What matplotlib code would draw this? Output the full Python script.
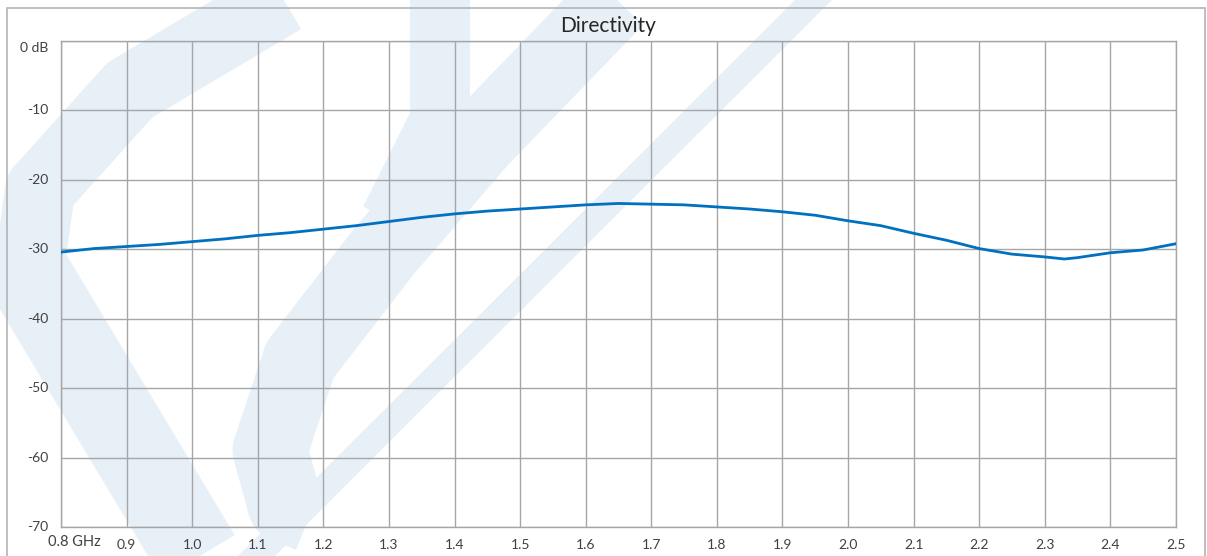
import matplotlib.pyplot as plt
from matplotlib.patches import Polygon, Rectangle
from matplotlib.lines import Line2D

W, H = 1207, 556

freq_ghz = [0.80, 0.85, 0.90, 0.95, 1.00, 1.05, 1.10, 1.15, 1.20, 1.25, 1.30,
            1.35, 1.40, 1.45, 1.50, 1.55, 1.60, 1.65, 1.70, 1.75, 1.80, 1.85,
            1.90, 1.95, 2.00, 2.05, 2.10, 2.15, 2.20, 2.25, 2.30, 2.33, 2.35,
            2.40, 2.45, 2.50]
directivity_db = [-30.4, -29.9, -29.6, -29.3, -28.9, -28.5, -28.0, -27.6, -27.1,
                  -26.6, -26.0, -25.4, -24.9, -24.5, -24.2, -23.9, -23.6, -23.4,
                  -23.5, -23.6, -23.9, -24.2, -24.6, -25.1, -25.9, -26.6, -27.7,
                  -28.7, -29.9, -30.7, -31.1, -31.4, -31.2, -30.5, -30.1, -29.2]

x_ticks = [0.8, 0.9, 1.0, 1.1, 1.2, 1.3, 1.4, 1.5, 1.6, 1.7, 1.8, 1.9,
           2.0, 2.1, 2.2, 2.3, 2.4, 2.5]
x_labels = ["0.8 GHz", "0.9", "1.0", "1.1", "1.2", "1.3", "1.4", "1.5", "1.6",
            "1.7", "1.8", "1.9", "2.0", "2.1", "2.2", "2.3", "2.4", "2.5"]
y_ticks = [0, -10, -20, -30, -40, -50, -60, -70]
y_labels = ["0 dB", "-10", "-20", "-30", "-40", "-50", "-60", "-70"]

grid_col = "#a6a6a6"
text_col = "#404040"
mark_col = "#e7eff7"

plt.rcParams['font.family'] = ['Lato', 'DejaVu Sans']

fig = plt.figure(figsize=(W / 100, H / 100), dpi=100)


def px(points):
    # pixel coords (origin top-left) -> figure fraction
    return [(x / W, 1 - y / H) for x, y in points]


def stroke(points, width_px):
    xy = px(points)
    fig.add_artist(Line2D([p[0] for p in xy], [p[1] for p in xy],
                          transform=fig.transFigure, color=mark_col,
                          linewidth=width_px * 0.72, solid_capstyle="butt",
                          solid_joinstyle="round", zorder=-5))


# faint logo watermark behind the chart (rough sketch)
fig.patches.append(Polygon(px([(795, 0), (832, 0), (275, 556), (238, 556)]),
                           closed=True, transform=fig.transFigure,
                           facecolor=mark_col, edgecolor="none", zorder=-5))
stroke([(620, -5), (480, 140), (385, 250), (300, 360), (270, 450), (285, 505),
        (310, 515)], 75)
stroke([(20, 260), (200, 560)], 85)
stroke([(25, 300), (40, 190), (130, 90), (290, -5)], 70)
stroke([(440, -5), (440, 120), (390, 220)], 60)

# outer chart frame
fig.patches.append(Rectangle((7 / W, -0.1), 1198 / W, 1.1 - 8 / H,
                             transform=fig.transFigure, fill=False,
                             edgecolor="#b4b4b4", linewidth=1.2, zorder=-4))

ax = fig.add_axes([61 / W, 1 - 527 / H, 1115 / W, 486 / H])
ax.set_facecolor("none")
ax.set_xlim(0.8, 2.5)
ax.set_ylim(-70, 0)

ax.plot(freq_ghz, directivity_db, color="#0070c0", linewidth=2.0, zorder=3)

ax.set_xticks(x_ticks)
ax.set_yticks(y_ticks)
ax.set_xticklabels([])
ax.set_yticklabels([])
ax.tick_params(length=0)
ax.grid(True, color=grid_col, linewidth=1.0)
ax.set_axisbelow(True)
for s in ax.spines.values():
    s.set_color(grid_col)
    s.set_linewidth(1.0)

trans_x = ax.get_xaxis_transform()
for i, (xv, lab) in enumerate(zip(x_ticks, x_labels)):
    if i == 0:
        fig.text(48 / W, 1 - 542 / H, lab, ha="left", va="center",
                 fontsize=10.5, color=text_col, zorder=5,
                 bbox=dict(facecolor="white", edgecolor="none", pad=0.5))
    else:
        ax.text(xv, -0.038, lab, transform=trans_x, ha="center", va="center",
                fontsize=10, color=text_col)

trans_y = ax.get_yaxis_transform()
for yv, lab in zip(y_ticks, y_labels):
    dy = -1.0 if yv == 0 else 0
    ax.text(-0.011, yv + dy, lab, transform=trans_y, ha="right", va="center",
            fontsize=10, color=text_col)

fig.text(608 / W, 1 - 26 / H, "Directivity", ha="center", va="center",
         fontsize=15, color="#262626")

fig.savefig("out.png", dpi=100, facecolor="white")
